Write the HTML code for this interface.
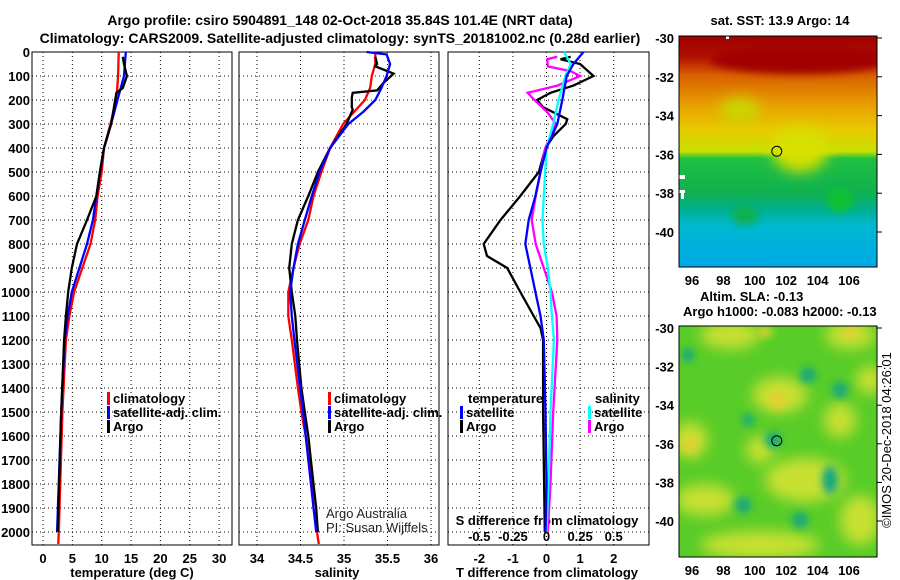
<!DOCTYPE html>
<html><head><meta charset="utf-8"><style>
body{margin:0;background:#fff}
svg{display:block;font-family:"Liberation Sans",sans-serif;font-weight:bold;font-size:13px}
</style></head><body>
<svg id="c" width="900" height="580" viewBox="0 0 900 580" xmlns="http://www.w3.org/2000/svg">
<defs>
<linearGradient id="sst" x1="0" y1="0" x2="0" y2="1">
<stop offset="0" stop-color="#a00000"/><stop offset="0.09" stop-color="#b01000"/>
<stop offset="0.17" stop-color="#d86000"/><stop offset="0.3" stop-color="#e8a000"/>
<stop offset="0.4" stop-color="#e8c800"/><stop offset="0.5" stop-color="#c8e000"/>
<stop offset="0.53" stop-color="#20c040"/><stop offset="0.68" stop-color="#10b050"/>
<stop offset="0.75" stop-color="#00b090"/><stop offset="0.82" stop-color="#00b8d0"/>
<stop offset="1" stop-color="#00a8e8"/></linearGradient>
<filter id="bl" x="-50%" y="-50%" width="200%" height="200%"><feGaussianBlur stdDeviation="7"/></filter>
<filter id="bl2" x="-50%" y="-50%" width="200%" height="200%"><feGaussianBlur stdDeviation="4"/></filter>
<clipPath id="m1"><rect x="679" y="36" width="198" height="231"/></clipPath>
<clipPath id="m2"><rect x="679" y="326" width="198" height="231"/></clipPath>
</defs>
<text x="340" y="25" text-anchor="middle" font-size="14">Argo profile: csiro 5904891_148 02-Oct-2018 35.84S 101.4E (NRT data)</text>
<text x="340" y="43" text-anchor="middle" font-size="14">Climatology: CARS2009. Satellite-adjusted climatology: synTS_20181002.nc (0.28d earlier)</text>
<g id="g"></g>
</svg>
<script>
// ---- data ----
const tClimDepth=[0,100,200,300,400,500,600,700,800,900,1000,1100,1200,1500,2000,2050];
const tClim=[12.9,12.8,12.5,11.5,10.4,10.0,9.3,8.9,8.1,6.7,5.3,4.5,3.9,3.3,2.7,2.6];
const tSatDepth=[0,100,200,300,400,500,600,700,800,900,1000,1100,1200,1500,2000];
const tSat=[14.1,13.8,12.7,11.6,10.4,9.7,9.1,8.5,7.5,6.2,4.9,4.2,3.7,3.1,2.4];
const tArgoDepth=[20,50,100,150,170,200,300,400,500,600,650,700,800,900,1000,1100,1200,1500,2000];
const tArgo=[13.6,13.8,14.3,13.6,12.5,12.3,11.6,10.4,9.7,9.1,8.3,7.5,5.8,4.9,4.3,3.9,3.6,3.1,2.5];
const sClimDepth=[0,50,100,150,200,300,400,500,600,700,800,900,1000,1100,1200,1400,1500,1600,1800,1900,2000,2050];
const sClim=[35.36,35.36,35.32,35.30,35.24,34.99,34.84,34.74,34.65,34.59,34.49,34.42,34.36,34.36,34.40,34.47,34.51,34.56,34.63,34.65,34.69,34.71];
const sSatDepth=[0,10,50,100,150,200,250,300,400,500,600,700,800,900,1000,1100,1200,1500,2000];
const sSat=[35.26,35.49,35.53,35.49,35.43,35.36,35.22,35.05,34.84,34.72,34.63,34.55,34.47,34.42,34.38,34.40,34.43,34.53,34.68];
const sArgoDepth=[20,50,60,90,130,160,170,190,230,240,300,400,500,600,700,800,900,1000,1100,1200,1400,1500,1600,1700,1800,1900,2000];
const sArgo=[35.36,35.38,35.36,35.57,35.45,35.38,35.10,35.09,35.09,35.10,35.03,34.84,34.70,34.59,34.47,34.40,34.37,34.40,34.44,34.46,34.51,34.55,34.59,34.62,34.65,34.68,34.70];
const dtSatDepth=[0,50,100,200,300,400,500,600,700,800,900,1000,1100,1200,1500,1800,2000];
const dtSat=[1.1,0.8,0.6,0.47,0.32,0,-0.18,-0.33,-0.53,-0.63,-0.48,-0.33,-0.18,-0.08,-0.03,0,-0.03];
const dtArgoDepth=[20,30,50,100,140,170,200,230,280,300,350,400,500,600,700,800,850,900,1000,1100,1150,1200,1500,2000];
const dtArgo=[0.72,0.42,1.0,1.4,0.8,0.12,-0.28,-0.1,0.62,0.57,0.21,-0.03,-0.23,-0.78,-1.37,-1.87,-1.77,-1.17,-0.78,-0.38,-0.18,-0.1,-0.1,-0.05];
const dsSatDepth=[0,50,100,200,300,400,500,600,700,800,900,1000,1100,1200,1500,1800,2000];
const dsSat=[0.13,0.18,0.14,0.09,0.05,0,-0.01,-0.02,-0.03,-0.02,0.01,0.03,0.04,0.055,0.03,0.015,0];
const dsArgoDepth=[20,30,60,80,100,140,170,200,250,300,400,500,600,700,800,900,1000,1100,1200,1500,1800,2000];
const dsArgo=[0.08,0.005,0.01,0.18,0.25,0.08,-0.14,-0.09,0.005,0.07,-0.01,-0.045,-0.08,-0.11,-0.08,-0.02,0.04,0.075,0.08,0.05,0.03,0.01];
const depthTicks=[0,100,200,300,400,500,600,700,800,900,1000,1100,1200,1300,1400,1500,1600,1700,1800,1900,2000];
const tTicks=[0,5,10,15,20,25,30];
const sTicks=[34,34.5,35,35.5,36];
const sTickLabels=["34","34.5","35","35.5","36"];
const dtTicks=[-2,-1,0,1,2];
const dsTicks=[-0.5,-0.25,0,0.25,0.5];
const dsTickLabels=["-0.5","-0.25","0","0.25","0.5"];
const latTicks=[-30,-32,-34,-36,-38,-40];
const lonTicks=[96,98,100,102,104,106];
// ---- scales ----
const yD=d=>52+d*0.24;
const xT=v=>43+v*5.87;
const xS=v=>257+(v-34)*87;
const xDT=v=>546.5+v*33.6;
const xDS=v=>546.5+v*134.4;
const mx=l=>692+(l-96)*15.7;
const my1=l=>38+(-30-l)*19.4;
const my2=l=>328+(-30-l)*19.3;
const NS="http://www.w3.org/2000/svg";
const G=document.getElementById('g');
function el(t,a,p){const e=document.createElementNS(NS,t);for(const k in a)e.setAttribute(k,a[k]);(p||G).appendChild(e);return e;}
function txt(x,y,s,anchor,extra){const e=el('text',Object.assign({x:x,y:y,'text-anchor':anchor||'start'},extra||{}));e.textContent=s;return e;}
const panels=[{x0:32,x1:232,name:'temperature'},{x0:239,x1:439,name:'salinity'},{x0:448,x1:649,name:'difference'}];
const m1=el('g',{'clip-path':'url(#m1)'});


el('rect',{x:679,y:36,width:198,height:231,fill:'url(#sst)'},m1);
el('ellipse',{cx:800,cy:150,rx:28,ry:22,fill:'#d8e000',filter:'url(#bl)'},m1);
el('ellipse',{cx:740,cy:110,rx:20,ry:12,fill:'#c8d800',filter:'url(#bl)'},m1);
el('ellipse',{cx:800,cy:60,rx:90,ry:14,fill:'#a00000',filter:'url(#bl2)'},m1);
el('ellipse',{cx:745,cy:215,rx:14,ry:10,fill:'#10b050',filter:'url(#bl2)'},m1);
el('ellipse',{cx:840,cy:200,rx:14,ry:12,fill:'#10c030',filter:'url(#bl2)'},m1);
el('rect',{x:679,y:175,width:6,height:4,fill:'#fff'},m1);
el('rect',{x:679,y:190,width:6,height:3,fill:'#fff'},m1);
el('rect',{x:681,y:193,width:3,height:6,fill:'#fff'},m1);
el('rect',{x:726,y:36,width:3,height:3,fill:'#fff'},m1);
el('rect',{x:679,y:36,width:198,height:231,fill:'none',stroke:'#000'});
const m2=el('g',{'clip-path':'url(#m2)'});


el('rect',{x:679,y:326,width:198,height:231,fill:'#58cc28'},m2);
[[730,335,30,14],[850,335,25,14],[780,395,28,18],[690,440,18,18],[760,450,14,14],[705,500,30,16],[805,480,40,22],[840,420,16,18],[860,520,20,25],[760,545,60,14],[870,380,14,14]].forEach(b=>el('ellipse',{cx:b[0],cy:b[1],rx:b[2],ry:b[3],fill:'#c8e030',filter:'url(#bl)'},m2));
[[778,400,10,9,'#e0d030'],[690,445,8,8,'#e0d030'],[850,332,8,6,'#e0d030'],[765,332,8,5,'#e0d030']].forEach(b=>el('ellipse',{cx:b[0],cy:b[1],rx:b[2],ry:b[3],fill:b[4],filter:'url(#bl2)'},m2));
[[688,355,6,7],[808,375,8,8],[773,440,8,8],[743,505,8,8],[800,520,8,8],[830,480,8,14],[840,390,8,8],[748,420,6,6]].forEach(b=>el('ellipse',{cx:b[0],cy:b[1],rx:b[2],ry:b[3],fill:'#18a880',filter:'url(#bl2)'},m2));
el('rect',{x:679,y:326,width:198,height:231,fill:'none',stroke:'#000'});
el('circle',{cx:mx(101.4),cy:my1(-35.84),r:5,fill:'none',stroke:'#000'});
el('circle',{cx:mx(101.4),cy:my2(-35.84),r:5,fill:'none',stroke:'#000'});
latTicks.forEach(l=>{
 let t=txt(674,my1(l)+5,String(l),'end');
 
 
 el('line',{x1:877,x2:882,y1:my1(l),y2:my1(l),stroke:'#000'});
 let t2=txt(674,my2(l)+5,String(l),'end');
 
 
 el('line',{x1:877,x2:882,y1:my2(l),y2:my2(l),stroke:'#000'});
});
lonTicks.forEach(l=>{
 let t=txt(mx(l),285,String(l),'middle');
 
 
 let t2=txt(mx(l),575,String(l),'middle');
 
 
});
let a;
a=txt(780,25,'sat. SST: 13.9 Argo: 14','middle');
a=txt(700,301,'Altim. SLA: -0.13','start');
a=txt(683,316,'Argo h1000: -0.083 h2000: -0.13','start');
a=txt(0,0,'©IMOS 20-Dec-2018 04:26:01','middle',{transform:'translate(891,440) rotate(-90)','font-weight':'normal'});
panels.forEach(p=>{
 const fr=el('rect',{x:p.x0,y:52,width:p.x1-p.x0,height:493,fill:'none',stroke:'#000'});
 
 
 depthTicks.forEach(d=>{el('line',{x1:p.x0,x2:p.x1,y1:yD(d),y2:yD(d),stroke:'#000','stroke-dasharray':'1,3'});});
});
depthTicks.forEach(d=>{const t=txt(30,yD(d)+5,String(d),'end');});
function vgrid(ticks,sc,lbl,y,labels){ticks.forEach((v,i)=>{el('line',{x1:sc(v),x2:sc(v),y1:52,y2:545,stroke:'#000','stroke-dasharray':'1,3'});if(lbl){const t=txt(sc(v),y,labels?labels[i]:String(v),'middle');}});}
vgrid(tTicks,xT,true,563);
vgrid(sTicks,xS,true,563,sTickLabels);
vgrid(dtTicks,xDT,true,563);
dsTicks.forEach((v,i)=>{const t=txt(xDS(v),541,dsTickLabels[i],'middle');});
a=txt(132,577,'temperature (deg C)','middle');
a=txt(337,577,'salinity','middle');
a=txt(547,577,'T difference from climatology','middle');
a=txt(547,525,'S difference from climatology','middle');
a=txt(326,518,'Argo Australia','start',{'font-weight':'normal',fill:'#222'});
a=txt(326,532,'PI: Susan Wijffels','start',{'font-weight':'normal',fill:'#222'});
function line(depths,vals,sc,col,name){
 const pts=depths.map((d,i)=>sc(vals[i]).toFixed(1)+','+yD(d).toFixed(1)).join(' ');
 const e=el('polyline',{points:pts,fill:'none',stroke:col,'stroke-width':2.3});
 
 
}
line(tClimDepth,tClim,xT,'#f00','temperature-climatology-line');
line(tSatDepth,tSat,xT,'#00f','temperature-satellite-line');
line(tArgoDepth,tArgo,xT,'#000','temperature-argo-line');
line(sClimDepth,sClim,xS,'#f00','salinity-climatology-line');
line(sArgoDepth,sArgo,xS,'#000','salinity-argo-line');
line(sSatDepth,sSat,xS,'#00f','salinity-satellite-line');
line(dtArgoDepth,dtArgo,xDT,'#000','t-diff-argo-line');
line(dsArgoDepth,dsArgo,xDS,'#f0f','s-diff-argo-line');
line(dsSatDepth,dsSat,xDS,'#0ff','s-diff-satellite-line');
line(dtSatDepth,dtSat,xDT,'#00f','t-diff-satellite-line');
function leg(x,y,col,label){
 el('rect',{x:x,y:y-11,width:3,height:13,fill:col});
 const t=txt(x+6,y,label,'start');
 
 
}
[[107,'climatology','#f00'],[107,'satellite-adj. clim.','#00f'],[107,'Argo','#000']].forEach((r,i)=>leg(r[0],403+i*14,r[2],r[1]));
[[328,'climatology','#f00'],[328,'satellite-adj. clim.','#00f'],[328,'Argo','#000']].forEach((r,i)=>leg(r[0],403+i*14,r[2],r[1]));
a=txt(468,403,'temperature','start');
a=txt(595,403,'salinity','start');
leg(460,417,'#00f','satellite');leg(460,431,'#000','Argo');
leg(588,417,'#0ff','satellite');leg(588,431,'#f0f','Argo');
</script>
</body></html>
